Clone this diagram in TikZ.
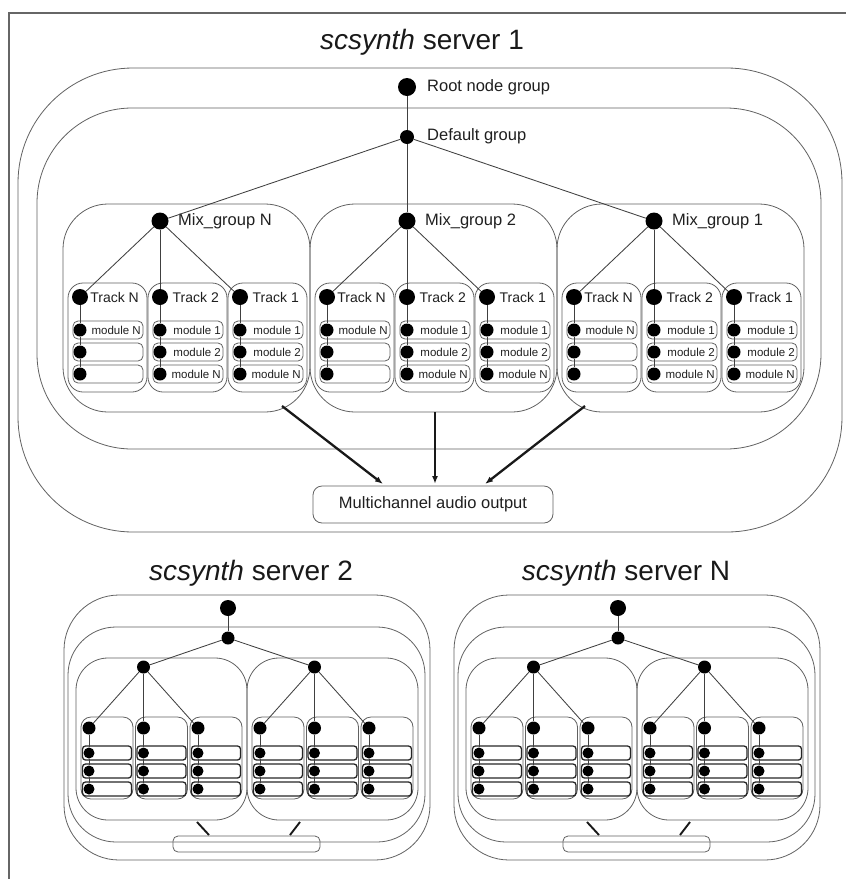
\documentclass[tikz,border=0pt]{standalone}
\usepackage{fontspec}
\setmainfont{Liberation Sans}
\usetikzlibrary{arrows.meta}
\newcommand\rrbox[7][boxline]{\node[#1,rectangle,inner sep=0pt,outer sep=0pt,rounded corners=#7pt,minimum width={(#5)-(#3)},minimum height={(#6)-(#4)}] (#2) at ({((#3)+(#5))/2},{((#4)+(#6))/2}) {};}
\newcommand\smallserver[2]{%
\begin{scope}[shift={(#2,0)}]
\rrbox{#1out}{64}{595}{430}{860}{55}
\rrbox{#1def}{68}{627}{425}{842}{48}
\node[dot,minimum size=16] (#1root) at (228,608) {};
\node[dot,minimum size=13] (#1dot) at (228,638) {};
\draw[conn] (#1root) -- (#1dot);
\foreach \mm/\LL in {a/76,b/247} {
  \rrbox{#1mix\mm}{\LL}{658}{\LL+171}{820}{32}
  \node[dot,minimum size=13] (#1mdot\mm) at (\LL+67.5,667) {};
  \draw[conn] (#1dot) -- (#1mdot\mm);
  \foreach \kk in {0,1,2} {
    \pgfmathsetmacro\trx{\LL+5+54.5*\kk}
    \rrbox{#1tr\mm\kk}{\trx}{717}{\trx+52}{799}{10}
    \node[dot,minimum size=13] (#1td\mm\kk) at (\trx+8,728) {};
    \draw[conn] (#1mdot\mm) -- (#1td\mm\kk);
    \foreach \rw/\ya in {1/746,2/764,3/782} {
      \rrbox[smallmod]{#1mb\mm\kk\rw}{\trx+1.5}{\ya}{\trx+50.5}{\ya+14}{3}
      \node[dot,minimum size=11] (#1md\mm\kk\rw) at (\trx+8,\ya+7) {};
    }
    \draw[conn] (#1td\mm\kk) -- (#1md\mm\kk1) -- (#1md\mm\kk2) -- (#1md\mm\kk3);
  }
}
\rrbox{#1o}{173}{836}{320}{852}{5}
\coordinate (#1c1s) at (197,822); \coordinate (#1c1e) at (209,835);
\coordinate (#1c2s) at (300,822); \coordinate (#1c2e) at (290,835);
\draw[smallout] (#1c1s) -- (#1c1e);
\draw[smallout] (#1c2s) -- (#1c2e);
\end{scope}}
\begin{document}
\begin{tikzpicture}[x=1pt,y=-1pt,
  boxline/.style={draw=black!62,line width=0.8pt},
  smallmod/.style={draw=black!85,line width=1.3pt},
  dot/.style={circle,fill=black,draw=none,inner sep=0pt},
  conn/.style={draw=black!75,line width=0.85pt},
  titlelbl/.style={font=\fontsize{28}{32}\selectfont,text=black!90,inner sep=0pt},
  biglbl/.style={font=\fontsize{16.5}{19}\selectfont,text=black!88,anchor=west,inner sep=0pt},
  outlbl/.style={font=\fontsize{16.5}{19}\selectfont,text=black!88,inner sep=0pt},
  tracklbl/.style={font=\fontsize{14}{16}\selectfont,text=black!88,anchor=east,inner sep=0pt},
  modlbl/.style={font=\fontsize{11.5}{13}\selectfont,text=black!88,anchor=east,inner sep=0pt},
  outarrow/.style={line width=2.3pt,draw=black!90,-{Latex[length=8pt,width=6pt]}},
  smallout/.style={line width=1.9pt,draw=black!90},
  frameline/.style={draw=black!60,line width=1.1pt}]
\useasboundingbox (0,0) rectangle (846,879);
\draw[frameline] (9,879) -- (9,13) -- (846,13);
% ---------- server 1 ----------
\node[titlelbl] (t1) at (422,42) {\textit{scsynth} server 1};
\rrbox{s1out}{18}{68}{842}{532}{115}
\rrbox{s1def}{37}{108}{821}{449}{95}
\node[dot,minimum size=18] (root) at (407,87) {};
\node[biglbl] (rootl) at (427,87) {Root node group};
\node[dot,minimum size=14] (def) at (407,137) {};
\node[biglbl] (defl) at (427,136) {Default group};
\draw[conn] (root) -- (def);
\foreach \mm/\LL/\lab in {N/63/N,2/310/2,1/557/1} {
  \rrbox{mix\mm}{\LL}{204}{\LL+247}{412}{45}
  \node[dot,minimum size=17] (mixdot\mm) at (\LL+97,221) {};
  \node[biglbl] (mixl\mm) at (\LL+115,221) {Mix\_group \lab};
  \draw[conn] (def) -- (mixdot\mm);
  \foreach \kk/\tnm in {0/N,1/2,2/1} {
    \pgfmathsetmacro\trx{\LL+5+80*\kk}
    \rrbox{tr\mm\kk}{\trx}{283}{\trx+79}{392}{15}
    \node[dot,minimum size=16] (td\mm\kk) at (\trx+12,297) {};
    \node[tracklbl] (tl\mm\kk) at (\trx+71,297) {Track \tnm};
    \draw[conn] (mixdot\mm) -- (td\mm\kk);
    \foreach \rw/\ya/\mlb in {1/321/1,2/343/2,3/365/N} {
      \rrbox{mb\mm\kk\rw}{\trx+5}{\ya}{\trx+75}{\ya+18}{5}
      \node[dot,minimum size=13] (md\mm\kk\rw) at (\trx+12,\ya+9) {};
      \ifnum\kk=0 \ifnum\rw=1 \node[modlbl] (ml\mm\kk\rw) at (\trx+73,\ya+9) {module N};\fi
      \else \node[modlbl] (ml\mm\kk\rw) at (\trx+73,\ya+9) {module \mlb};\fi
    }
    \draw[conn] (td\mm\kk) -- (md\mm\kk1) -- (md\mm\kk2) -- (md\mm\kk3);
  }
}
\rrbox{out}{313}{486}{553}{523}{9}
\node[outlbl] (outl) at (433,504.5) {Multichannel audio output};
\coordinate (a1s) at (282,406); \coordinate (a1e) at (383,484);
\coordinate (a2s) at (435,412); \coordinate (a2e) at (435,484);
\coordinate (a3s) at (585,406); \coordinate (a3e) at (485,484);
\draw[outarrow] (a1s) -- (a1e);
\draw[outarrow] (a2s) -- (a2e);
\draw[outarrow] (a3s) -- (a3e);
% ---------- servers 2 and N ----------
\node[titlelbl] (t2) at (251,573) {\textit{scsynth} server 2};
\node[titlelbl] (tN) at (626,573) {\textit{scsynth} server N};
\smallserver{sa}{0}
\smallserver{sb}{390}
\end{tikzpicture}
\end{document}
